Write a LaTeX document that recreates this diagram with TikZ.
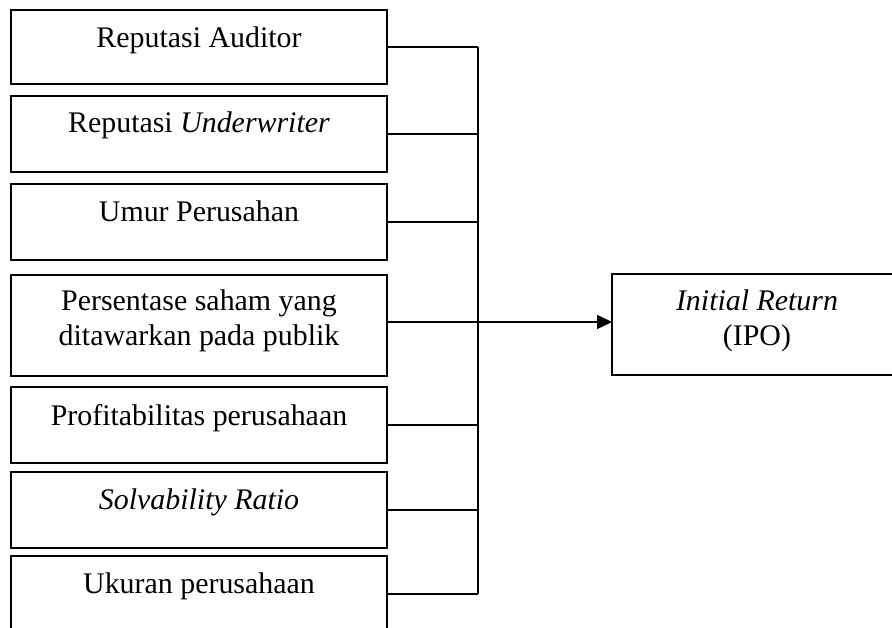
\documentclass[tikz,border=0pt]{standalone}
\usepackage{fontspec}
\setmainfont{Liberation Serif}
\usetikzlibrary{arrows.meta}
\begin{document}
\begin{tikzpicture}[x=1pt,y=-1pt,
  box/.style={draw,line width=1.8pt,rectangle,minimum width=376pt,inner sep=0pt,outer sep=0pt},
  lbl/.style={font=\fontsize{29.9}{35}\selectfont,align=center,inner sep=0pt,anchor=base},
  conn/.style={line width=1.5pt}]
\useasboundingbox (0,0) rectangle (892,628);
\clip (0,0) rectangle (892,628);
\node[box,minimum height=74pt] (b1) at (199,47) {};
\node[box,minimum height=76pt] (b2) at (199,134) {};
\node[box,minimum height=76pt] (b3) at (199,222) {};
\node[box,minimum height=101pt] (b4) at (199,325.5) {};
\node[box,minimum height=76pt] (b5) at (199,425) {};
\node[box,minimum height=76pt] (b6) at (199,510) {};
\node[box,minimum height=76pt] (b7) at (199,594) {};
\node[box,minimum width=290pt,minimum height=101pt] (ipo) at (757,324.5) {};
\node[lbl] (t1) at (199,48) {Reputasi Auditor};
\node[lbl] (t2) at (199,133) {Reputasi \textit{Underwriter}};
\node[lbl] (t3) at (199,222) {Umur Perusahan};
\node[lbl,anchor=center] (t4) at (199,321) {Persentase saham yang\\ditawarkan pada publik};
\node[lbl] (t5) at (199,425) {Profitabilitas perusahaan};
\node[lbl] (t6) at (199,509) {\textit{Solvability Ratio}};
\node[lbl] (t7) at (199,593) {Ukuran perusahaan};
\node[lbl,anchor=center] (t8) at (757,321) {\textit{Initial Return}\\(IPO)};
\coordinate (bt) at (478,47);
\coordinate (bb) at (478,594);
\coordinate (j) at (478,322);
\draw[conn] (bt) -- (bb);
\draw[conn] (b1.east) -- (b1.east -| bt);
\draw[conn] (b2.east) -- (b2.east -| bt);
\draw[conn] (b3.east) -- (b3.east -| bt);
\draw[conn] (b4.east |- j) -- (j);
\draw[conn] (b5.east) -- (b5.east -| bt);
\draw[conn] (b6.east) -- (b6.east -| bt);
\draw[conn] (b7.east) -- (b7.east -| bt);
\draw[conn,-{Triangle[length=15pt,width=14pt]}] (j) -- (ipo.west |- j);
\end{tikzpicture}
\end{document}
